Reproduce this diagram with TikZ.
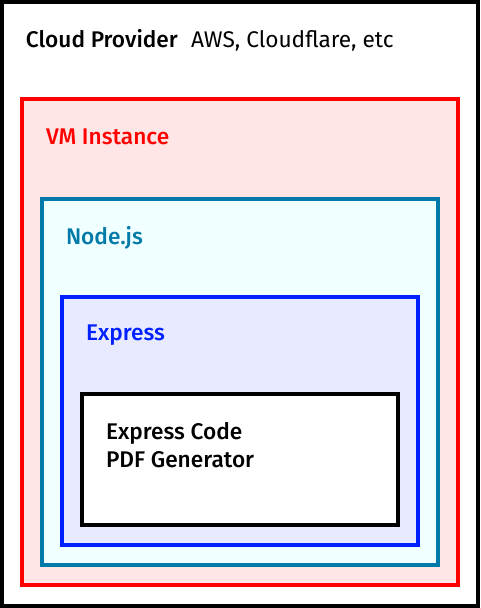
\documentclass[tikz,border=0pt]{standalone}
\usepackage{fontspec}
\setmainfont{Fira Sans}[BoldFont={Fira Sans Medium}]
\usepackage{tikz}
\definecolor{vmred}{RGB}{255,0,0}
\definecolor{vmfill}{RGB}{255,230,230}
\definecolor{nodeteal}{RGB}{0,122,168}
\definecolor{nodefill}{RGB}{240,255,255}
\definecolor{expblue}{RGB}{0,32,255}
\definecolor{expfill}{RGB}{232,234,255}
\newcommand{\lbl}{\fontsize{17}{21}\selectfont}

\begin{document}
\begin{tikzpicture}[x=0.75pt,y=-0.75pt,line width=3pt]
   \useasboundingbox (0,0) rectangle (480,608);
   \filldraw[fill=white,draw=black] (2,2) rectangle (478,606);
   \filldraw[fill=vmfill,draw=vmred] (22,99) rectangle (458,585);
   \filldraw[fill=nodefill,draw=nodeteal] (42,199) rectangle (438,565);
   \filldraw[fill=expfill,draw=expblue] (62,297) rectangle (418,545);
   \filldraw[fill=white,draw=black] (82,394) rectangle (398,525);
   \node[anchor=base west,inner sep=0pt] (cloud) at (24,47) {\lbl\bfseries Cloud Provider};
   \node[anchor=base west,inner sep=0pt] (aws) at (189,47) {\lbl AWS, Cloudflare, etc};
   \node[anchor=base west,inner sep=0pt,text=vmred] (vm) at (44,144) {\lbl\bfseries VM Instance};
   \node[anchor=base west,inner sep=0pt,text=nodeteal] (nodejs) at (64,244) {\lbl\bfseries Node.js};
   \node[anchor=base west,inner sep=0pt,text=expblue] (express) at (84,340) {\lbl\bfseries Express};
   \node[anchor=base west,inner sep=0pt] (code) at (104,439) {\lbl\bfseries Express Code};
   \node[anchor=base west,inner sep=0pt] (pdf) at (104,467) {\lbl\bfseries PDF Generator};
\end{tikzpicture}
\end{document}
